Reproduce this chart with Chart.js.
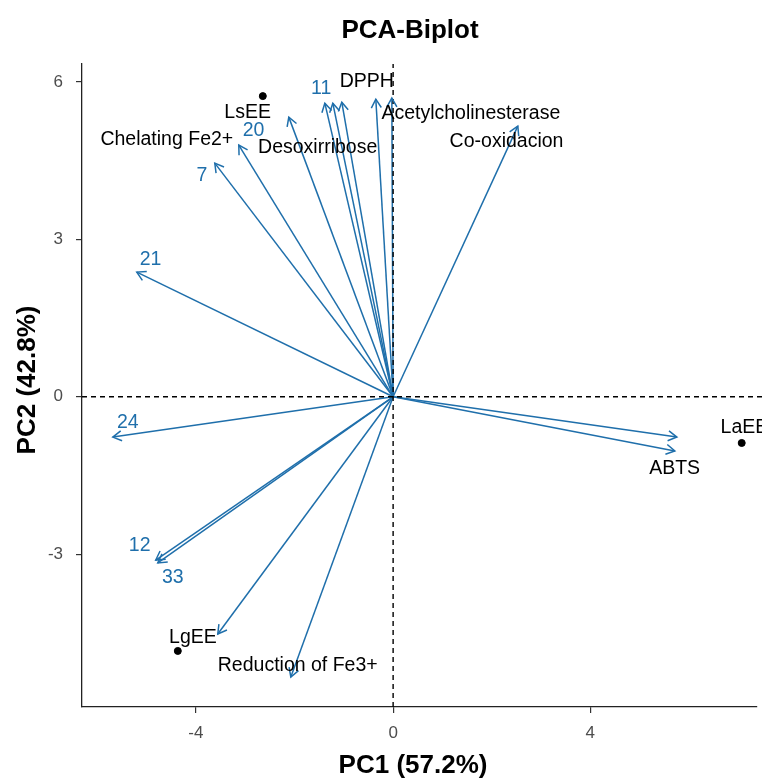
<!DOCTYPE html>
<html>
<head>
<meta charset="utf-8">
<title>PCA-Biplot</title>
<script src="https://cdn.jsdelivr.net/npm/chart.js@4.4.1/dist/chart.umd.min.js"></script>
<style>
    html, body { margin: 0; padding: 0; background: #fff; }
    #wrap { width: 762px; height: 780px; }
</style>
</head>
<body>
<div id="wrap"><canvas id="biplot" width="762" height="780"></canvas></div>
<script>
// ================= DATA =================
const xRange = [-6.31, 7.38];
const yRange = [-5.91, 6.34];
const xTicks = [-4, 0, 4];
const yTicks = [-3, 0, 3, 6];

// variable vectors (arrow tips)
const vecPC1 = [-1.385, -1.223, -1.041, -0.351, -0.026, -2.116, -3.130, -3.617, 2.529, -5.199, -5.685, -4.814, -4.773, -3.556, -2.075, 5.755, 5.714];
const vecPC2 = [5.594, 5.594, 5.613, 5.670, 5.690, 5.328, 4.794, 4.451, 5.156, 2.375, -0.768, -3.110, -3.166, -4.520, -5.340, -0.767, -1.033];

// individuals
const indNames = ['LsEE', 'LgEE', 'LaEE'];
const indPC1 = [-2.643, -4.367, 7.07];
const indPC2 = [5.728, -4.842, -0.88];

// black labels
const nameLabels = ['DPPH', 'Acetylcholinesterase', 'Co-oxidacion', 'Desoxirribose', 'Chelating Fe2+', 'LsEE', 'LgEE', 'LaEE', 'ABTS', 'Reduction of Fe3+'];
const nameLabelPC1 = [-0.535, 1.576, 2.30, -1.53, -4.59, -2.95, -4.06, 7.126, 5.71, -1.935];
const nameLabelPC2 = [6.013, 5.40, 4.87, 4.74, 4.89, 5.42, -4.58, -0.597, -1.36, -5.13];

// blue number labels
const numLabels = ['11', '20', '7', '21', '24', '12', '33'];
const numLabelPC1 = [-1.46, -2.83, -3.88, -4.92, -5.38, -5.14, -4.47];
const numLabelPC2 = [5.88, 5.08, 4.22, 2.62, -0.50, -2.83, -3.45];

// ================= STYLE =================
const BLUE = '#1f6fab';
const FONT = '"Liberation Sans", Arial, Helvetica, sans-serif';

// ================= DATASETS =================
const arrowSets = vecPC1.map((x, i) => ({
    type: 'line',
    data: [{ x: 0, y: 0 }, { x: x, y: vecPC2[i] }],
    borderColor: BLUE,
    borderWidth: 1.5,
    pointRadius: 0,
    fill: false
}));

const refLines = [
    {
        type: 'line',
        data: [{ x: xRange[0], y: 0 }, { x: xRange[1] + 0.2, y: 0 }],
        borderColor: '#000',
        borderWidth: 1.4,
        borderDash: [5, 4],
        pointRadius: 0,
        clip: false
    },
    {
        type: 'line',
        data: [{ x: 0, y: yRange[0] }, { x: 0, y: yRange[1] }],
        borderColor: '#000',
        borderWidth: 1.4,
        borderDash: [5, 4],
        pointRadius: 0
    }
];

const indSet = {
    type: 'scatter',
    data: indPC1.map((x, i) => ({ x: x, y: indPC2[i] })),
    backgroundColor: '#000',
    borderColor: '#000',
    pointRadius: 3.5
};

// ================= PLUGINS =================
const arrowHeads = {
    id: 'arrowHeads',
    afterDatasetsDraw(chart) {
        const { ctx, scales: { x, y } } = chart;
        ctx.save();
        ctx.strokeStyle = BLUE;
        ctx.lineWidth = 1.5;
        vecPC1.forEach((vx, i) => {
            const x0 = x.getPixelForValue(0), y0 = y.getPixelForValue(0);
            const x1 = x.getPixelForValue(vx), y1 = y.getPixelForValue(vecPC2[i]);
            const a = Math.atan2(y1 - y0, x1 - x0);
            const len = 10, spread = Math.PI / 6;
            ctx.beginPath();
            ctx.moveTo(x1 - len * Math.cos(a - spread), y1 - len * Math.sin(a - spread));
            ctx.lineTo(x1, y1);
            ctx.lineTo(x1 - len * Math.cos(a + spread), y1 - len * Math.sin(a + spread));
            ctx.stroke();
        });
        ctx.restore();
    }
};

const textLabels = {
    id: 'textLabels',
    afterDraw(chart) {
        const { ctx, scales: { x, y } } = chart;
        ctx.save();
        ctx.textAlign = 'center';
        ctx.textBaseline = 'middle';

        ctx.font = '19.5px ' + FONT;
        ctx.fillStyle = '#000';
        nameLabels.forEach((t, i) => {
            ctx.fillText(t, x.getPixelForValue(nameLabelPC1[i]), y.getPixelForValue(nameLabelPC2[i]));
        });

        ctx.fillStyle = BLUE;
        numLabels.forEach((t, i) => {
            ctx.fillText(t, x.getPixelForValue(numLabelPC1[i]), y.getPixelForValue(numLabelPC2[i]));
        });

        // titles
        ctx.fillStyle = '#000';
        ctx.font = 'bold 26px ' + FONT;
        ctx.fillText('PCA-Biplot', 410, 31);
        ctx.fillText('PC1 (57.2%)', 413, 766);
        ctx.translate(28, 380);
        ctx.rotate(-Math.PI / 2);
        ctx.fillText('PC2 (42.8%)', 0, 0);
        ctx.restore();
    }
};

// ================= CHART =================
new Chart(document.getElementById('biplot'), {
    type: 'scatter',
    data: { datasets: [...refLines, ...arrowSets, indSet] },
    options: {
        responsive: false,
        animation: false,
        devicePixelRatio: 1,
        layout: { padding: { top: 64, right: 0, left: 0, bottom: 0 } },
        plugins: {
            legend: { display: false },
            tooltip: { enabled: false },
            title: { display: false }
        },
        scales: {
            x: {
                type: 'linear',
                min: xRange[0],
                max: xRange[1],
                afterBuildTicks: s => { s.ticks = xTicks.map(v => ({ value: v })); },
                afterFit: s => { s.height = 73; },
                grid: { drawOnChartArea: false, drawTicks: true, tickLength: 6, color: '#333', lineWidth: 1.2 },
                border: { display: true, color: '#222', width: 1.3 },
                ticks: { font: { size: 17, family: FONT }, color: '#4d4d4d', padding: 10 }
            },
            y: {
                type: 'linear',
                min: yRange[0],
                max: yRange[1],
                afterBuildTicks: s => { s.ticks = yTicks.map(v => ({ value: v })); },
                afterFit: s => { s.width = 82; },
                grid: { drawOnChartArea: false, drawTicks: true, tickLength: 6, color: '#333', lineWidth: 1.2 },
                border: { display: true, color: '#222', width: 1.3 },
                ticks: { font: { size: 17, family: FONT }, color: '#4d4d4d', padding: 13 }
            }
        }
    },
    plugins: [arrowHeads, textLabels]
});
</script>
</body>
</html>
